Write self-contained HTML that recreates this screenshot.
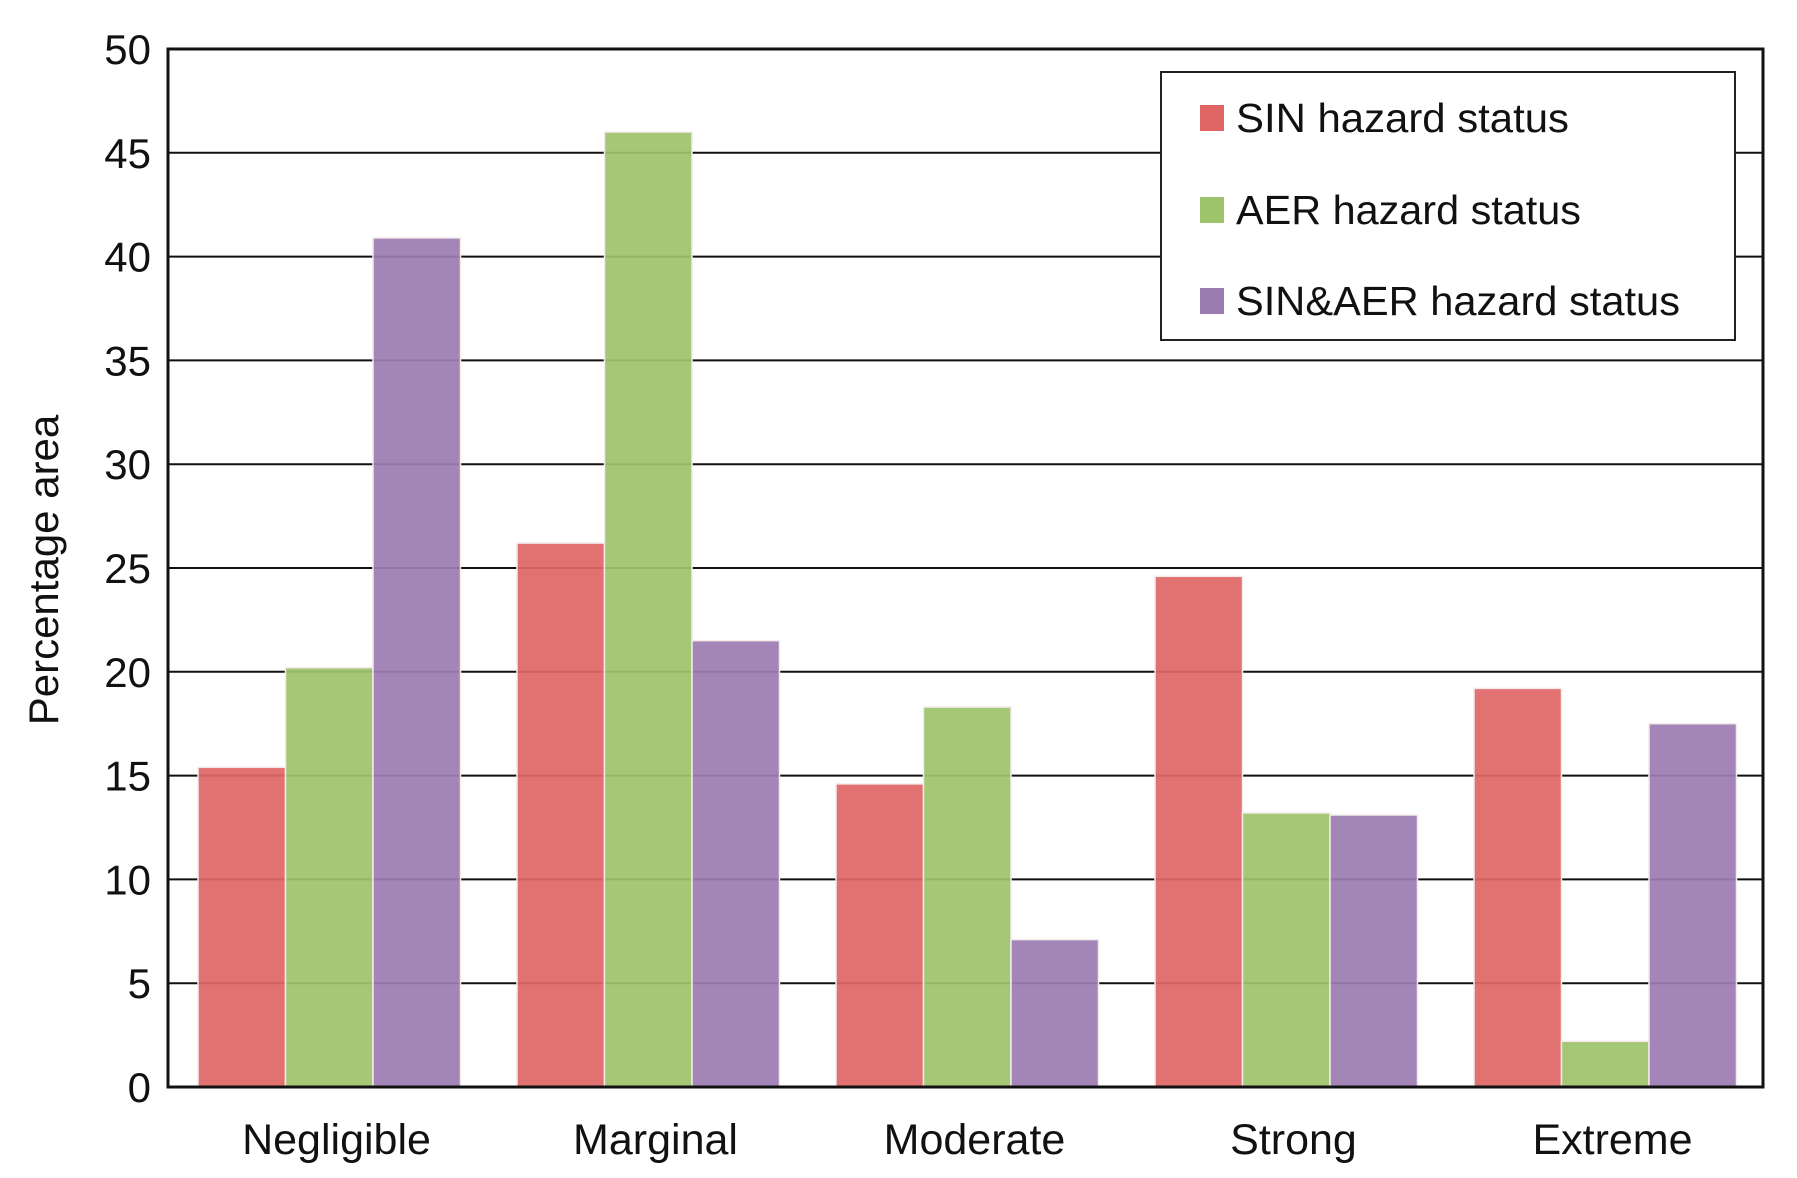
<!DOCTYPE html>
<html><head><meta charset="utf-8"><style>
html,body{margin:0;padding:0;background:#fff;}
svg{display:block;font-family:"Liberation Sans",sans-serif;}
</style></head><body>
<svg id="chart" width="1797" height="1178" viewBox="0 0 1797 1178"></svg>
<script>
const categories = ["Negligible","Marginal","Moderate","Strong","Extreme"];
const sinValues = [15.4, 26.2, 14.6, 24.6, 19.2];
const aerValues = [20.2, 46.0, 18.3, 13.2, 2.2];
const bothValues = [40.9, 21.5, 7.1, 13.1, 17.5];
const seriesNames = ["SIN hazard status","AER hazard status","SIN&AER hazard status"];
const yTicks = [0,5,10,15,20,25,30,35,40,45,50];

const NS = "http://www.w3.org/2000/svg";
const svg = document.getElementById("chart");
const L = 168, R = 1763, T = 49, B = 1087, yMax = 50;
const colors = ["#e06666","#9dc46a","#9c7db2"];
const series = [sinValues, aerValues, bothValues];
function y(v){ return B - (v / yMax) * (B - T); }
const groupW = (R - L) / categories.length;
const barW = 87.5;
function x(ci, si){ return L + ci * groupW + 30 + si * barW; }
function mk(tag, attrs){ const e = document.createElementNS(NS, tag); for (const k in attrs) e.setAttribute(k, attrs[k]); svg.appendChild(e); return e; }

yTicks.forEach(t => {
  const g = mk("line", {x1:L, x2:R, y1:y(t), y2:y(t), stroke:"#111", "stroke-width":2});
  
  
  const lb = mk("text", {x:L-17, y:y(t)+15, "text-anchor":"end", "font-size":42, fill:"#111"});
  lb.textContent = t;
  
  
});
categories.forEach((c, ci) => {
  series.forEach((vals, si) => {
    const r = mk("rect", {x:x(ci,si), y:y(vals[ci]), width:barW, height:B - y(vals[ci]), fill:colors[si], "fill-opacity":0.93, stroke:"#f4eaea", "stroke-width":1.5});
    
    
  });
  const t = mk("text", {x:L + ci*groupW + groupW/2 + 9, y:1154, "text-anchor":"middle", "font-size":43, fill:"#111"});
  t.textContent = c;
  
  
});
const fr = mk("rect", {x:L, y:T, width:R-L, height:B-T, fill:"none", stroke:"#111", "stroke-width":3});


const yt = mk("text", {x:0, y:0, transform:"translate(58,570) rotate(-90)", "text-anchor":"middle", "font-size":42, fill:"#111"});
yt.textContent = "Percentage area";


const lg = mk("rect", {x:1161, y:72, width:574, height:268, fill:"#fff", stroke:"#222", "stroke-width":2});


const ly = [118, 210, 301];
seriesNames.forEach((n, i) => {
  const s = mk("rect", {x:1200, y:ly[i]-13, width:24, height:26, fill:colors[i]});
  
  
  const t = mk("text", {x:1236, y:ly[i]+14, "font-size":41, fill:"#111", textLength: [333,345,444][i], lengthAdjust:"spacingAndGlyphs"});
  t.textContent = n;
  
  
});
</script>
</body></html>
